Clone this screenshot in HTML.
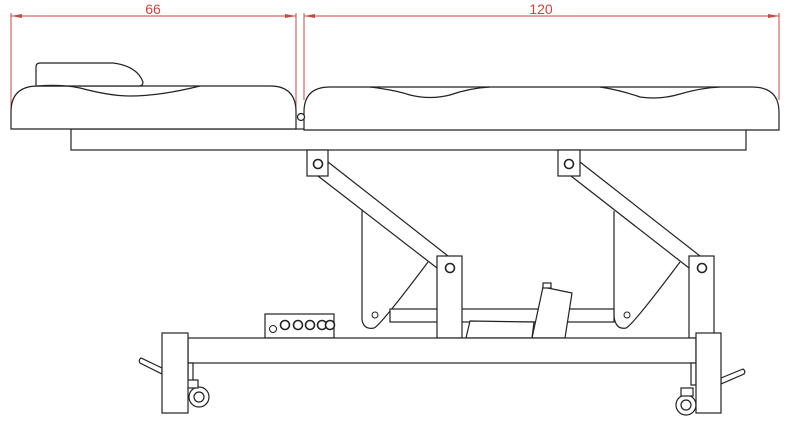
<!DOCTYPE html>
<html><head><meta charset="utf-8"><style>
html,body{margin:0;padding:0;background:#fff;}
svg{display:block;}
text{font-family:"Liberation Sans",sans-serif;}
</style></head><body>
<svg width="798" height="430" viewBox="0 0 798 430" xmlns="http://www.w3.org/2000/svg">
<g stroke="#c9473f" stroke-width="1" fill="none">
  <line x1="11" y1="13" x2="11" y2="112"/>
  <line x1="296" y1="13" x2="296" y2="112"/>
  <line x1="11" y1="16" x2="296" y2="16"/>
  <line x1="304" y1="13" x2="304" y2="100"/>
  <line x1="779" y1="13" x2="779" y2="100"/>
  <line x1="304" y1="16" x2="779" y2="16"/>
</g>
<g fill="#c9473f">
  <polygon points="11,16 22,14 22,18"/>
  <polygon points="296,16 285,14 285,18"/>
  <polygon points="304,16 315,14 315,18"/>
  <polygon points="779,16 768,14 768,18"/>
</g>
<text x="153" y="14" font-size="14" fill="#c9473f" text-anchor="middle">66</text>
<text x="541" y="14" font-size="14" fill="#c9473f" text-anchor="middle">120</text>

<g stroke="#222" stroke-width="1.2" fill="#fff">
  <rect x="71" y="129" width="675" height="21"/>
  <path d="M11,129 L11,112 Q11,86 38,86 L270,86 Q296,86 296,112 L296,129 Z"/>
  <path d="M36,86 L36,67 Q36,63 40,63 L113,63 Q137,66 143,82 Q143,86 139,86 Z"/>
  <path d="M38,86 Q60,84 80,88 Q110,96 130,96 Q160,96 200,86" fill="none"/>
  <path d="M304,130 L304,112 Q304,87 330,87 L752,87 Q779,87 779,112 L779,130 Z"/>
  <path d="M370,87 Q395,90 410,95 Q430,100 450,95 Q470,88 490,87 M600,87 Q620,90 640,97 Q660,100 680,94 Q700,88 720,87" fill="none"/>
  <circle cx="301" cy="117" r="3.5"/>
  <rect x="307" y="150" width="21" height="26"/>
  <rect x="558" y="150" width="22" height="26"/>
  <path d="M362,210 L362,320 Q364,330 374,328 Q380,326 428,262" fill="none"/>
  <path d="M614,211 L614,317 Q616,330 626,328 Q632,326 680,262" fill="none"/>
  <rect x="390" y="309" width="224" height="13"/>
  <polygon points="470,321 534,322 532,338 466,338"/>
  <polygon points="543,287 572,293 565,338 532,338"/>
  <rect x="543" y="283" width="8" height="5"/>
  <line x1="328" y1="162" x2="448" y2="256" fill="none"/>
  <line x1="318" y1="176" x2="437" y2="268" fill="none"/>
  <line x1="580" y1="162" x2="700" y2="256" fill="none"/>
  <line x1="571" y1="176" x2="689" y2="268" fill="none"/>
  <rect x="437" y="256" width="25" height="82"/>
  <rect x="689" y="256" width="25" height="82"/>
  <rect x="265" y="314" width="69" height="24"/>
  <rect x="188" y="338" width="508" height="25"/>
  <path d="M162,368 L141,358 Q138,360 140,363 L162,374 Z"/>
  <path d="M721,378 L743,369 Q746,371 744,374 L721,384 Z"/>
  <rect x="188" y="363" width="5" height="22"/>
  <rect x="691" y="363" width="5" height="22"/>
  <circle cx="199" cy="397" r="10"/>
  <circle cx="199" cy="397" r="5"/>
  <circle cx="686" cy="405" r="10"/>
  <circle cx="686" cy="405" r="5"/>
  <rect x="186" y="380" width="12" height="8"/>
  <rect x="681" y="388" width="12" height="8"/>
  <rect x="162" y="333" width="26" height="80"/>
  <rect x="696" y="333" width="25" height="80"/>
</g>
<g stroke="#222" stroke-width="1.6" fill="#fff">
  <circle cx="318" cy="164" r="4.5"/>
  <circle cx="569" cy="164" r="4.5"/>
  <circle cx="450" cy="268" r="4.5"/>
  <circle cx="702" cy="268" r="4.5"/>
  <circle cx="285" cy="325" r="4.5"/>
  <circle cx="298" cy="325" r="4.5"/>
  <circle cx="310" cy="325" r="4.5"/>
  <circle cx="322" cy="325" r="4.5"/>
  <circle cx="330" cy="325" r="4.5"/>
</g>
<g stroke="#222" stroke-width="1" fill="none">
  <circle cx="375" cy="315" r="3"/>
  <circle cx="627" cy="315" r="3"/>
  <circle cx="273" cy="329" r="3.5"/>
</g>
</svg>
</body></html>
